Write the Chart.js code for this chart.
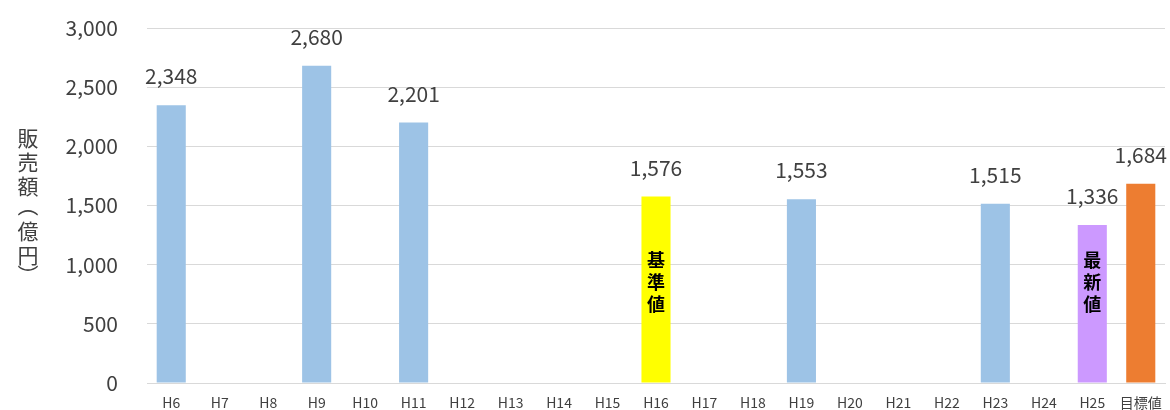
<!DOCTYPE html>
<html>
<head>
<meta charset="utf-8">
<script src="https://cdn.jsdelivr.net/npm/chart.js@4"></script>
<style>
  html, body { margin: 0; padding: 0; background: #fff; }
  #wrap { width: 1170px; height: 410px; position: relative; }
</style>
</head>
<body>
<div id="wrap"><canvas id="chart"></canvas></div>
<script>
// 年度と販売額（億円）
const years = ['H6', 'H7', 'H8', 'H9', 'H10', 'H11', 'H12', 'H13', 'H14', 'H15', 'H16', 'H17', 'H18', 'H19', 'H20', 'H21', 'H22', 'H23', 'H24', 'H25', '目標値'];
const sales = [2348, null, null, 2680, null, 2201, null, null, null, null, 1576, null, null, 1553, null, null, null, 1515, null, 1336, 1684];
const barColors = ['#9DC3E6', '#9DC3E6', '#9DC3E6', '#9DC3E6', '#9DC3E6', '#9DC3E6', '#9DC3E6', '#9DC3E6', '#9DC3E6', '#9DC3E6', '#FFFF00', '#9DC3E6', '#9DC3E6', '#9DC3E6', '#9DC3E6', '#9DC3E6', '#9DC3E6', '#9DC3E6', '#9DC3E6', '#CC99FF', '#ED7D31'];
// 棒の中に縦書きで入れる注記
const notes = { 'H16': '基準値', 'H25': '最新値' };
const axisTitle = '販売額（億円）';

const FONT = '"Noto Sans CJK JP", "Noto Sans", sans-serif';

// 値ラベル・注記・縦書きの軸タイトル
const labelPlugin = {
    id: 'labels',
    afterDatasetsDraw(chart) {
        const ctx = chart.ctx;
        const meta = chart.getDatasetMeta(0);
        const yScale = chart.scales.y;
        ctx.save();
        ctx.textAlign = 'center';
        meta.data.forEach((bar, i) => {
            const v = sales[i];
            if (v === null) return;
            ctx.fillStyle = '#404040';
            ctx.font = '21px ' + FONT;
            ctx.textBaseline = 'alphabetic';
            ctx.fillText(v.toLocaleString('en-US'), bar.x, bar.y - 21);
            const note = notes[years[i]];
            if (note) {
                ctx.fillStyle = '#000';
                ctx.font = 'bold 18px ' + FONT;
                ctx.textBaseline = 'middle';
                const yMid = yScale.getPixelForValue(850);
                [...note].forEach((ch, k) => {
                    ctx.fillText(ch, bar.x, yMid + (k - 1) * 22);
                });
            }
        });
        // 軸タイトル（一文字ずつ縦に並べる）
        ctx.fillStyle = '#404040';
        ctx.font = '21px ' + FONT;
        ctx.textBaseline = 'middle';
        const chars = [...axisTitle];
        let y = 138;
        chars.forEach((ch) => {
            if (ch === '（' || ch === '）') {
                ctx.save();
                ctx.translate(28, y - 4);
                ctx.rotate(Math.PI / 2);
                ctx.fillText(ch, 0, 0);
                ctx.restore();
                y += 21;
            } else {
                ctx.fillText(ch, 28, y);
                y += 24;
            }
        });
        ctx.restore();
    }
};

new Chart(document.getElementById('chart'), {
    type: 'bar',
    data: {
        labels: years,
        datasets: [{
            data: sales,
            backgroundColor: barColors,
            barPercentage: 0.6,
            categoryPercentage: 1.0
        }]
    },
    options: {
        responsive: true,
        maintainAspectRatio: false,
        animation: false,
        layout: { padding: { top: 28, right: 5, left: 0, bottom: 0 } },
        plugins: {
            legend: { display: false },
            tooltip: { enabled: false }
        },
        scales: {
            x: {
                grid: { display: false },
                border: { color: '#d9d9d9' },
                ticks: {
                    color: '#404040',
                    font: { family: FONT, size: 14 },
                    maxRotation: 0,
                    autoSkip: false,
                    padding: 3
                },
                afterFit(scale) { scale.height = 27; }
            },
            y: {
                min: 0,
                max: 3000,
                grid: { color: '#d9d9d9', tickLength: 26, tickColor: 'transparent' },
                border: { display: false },
                ticks: {
                    stepSize: 500,
                    color: '#404040',
                    font: { family: FONT, size: 21 },
                    padding: 3,
                    callback: (v) => v.toLocaleString('en-US')
                },
                afterFit(scale) { scale.width = 147; }
            }
        }
    },
    plugins: [labelPlugin]
});
</script>
</body>
</html>
